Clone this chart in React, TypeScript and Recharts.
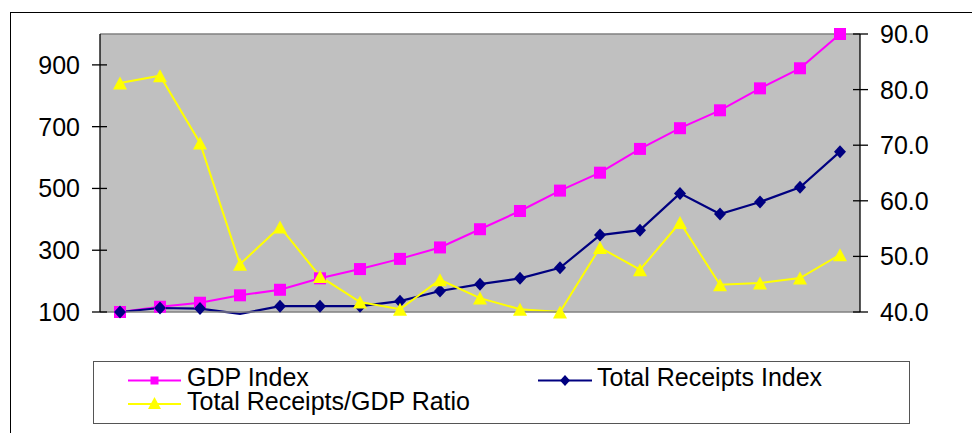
import React from 'react';
import { LineChart, Line, XAxis, YAxis, CartesianGrid, Legend, ReferenceLine } from 'recharts';

// --- data ---
const periods = ['1', '2', '3', '4', '5', '6', '7', '8', '9', '10', '11', '12', '13', '14', '15', '16', '17', '18', '19'];
const gdpIndex = [100, 117, 130, 154, 172, 209, 239, 272, 309, 368, 427, 493, 551, 628, 695, 753, 824, 889, 1000];
const receiptsIndex = [100, 113, 111, 94, 119, 119, 119, 135, 168, 190, 209, 243, 349, 365, 484, 417, 456, 504, 619];
const receiptsRatio = [81.2, 82.5, 70.4, 48.6, 55.3, 46.4, 41.8, 40.5, 45.8, 42.5, 40.5, 40.0, 51.6, 47.6, 56.1, 44.9, 45.2, 46.1, 50.3];
const leftTicks = [100, 300, 500, 700, 900];
const rightTicks = [40, 50, 60, 70, 80, 90];

const rows = periods.map((p, i) => ({
  period: p,
  gdp: gdpIndex[i],
  receipts: receiptsIndex[i],
  ratio: receiptsRatio[i],
}));

const FONT = '"Liberation Sans", Arial, sans-serif';
const MAGENTA = '#ff00ff';
const NAVY = '#000080';
const YELLOW = '#ffff00';

// --- marker shapes ---
const square = (cx: number, cy: number, s: number, color: string) => (
  <rect x={cx - s / 2} y={cy - s / 2} width={s} height={s} fill={color} />
);
const diamond = (cx: number, cy: number, w: number, h: number, color: string) => (
  <polygon points={`${cx},${cy - h} ${cx + w},${cy} ${cx},${cy + h} ${cx - w},${cy}`} fill={color} />
);
const triangle = (cx: number, cy: number, w: number, h: number, color: string) => (
  <polygon points={`${cx},${cy - h / 2} ${cx + w / 2},${cy + h / 2} ${cx - w / 2},${cy + h / 2}`} fill={color} />
);

const GdpDot = (props: any) => {
  const { cx, cy, index } = props;
  if (cx == null || cy == null) return <g key={index} />;
  return <g key={index}>{square(cx, cy, 12, MAGENTA)}</g>;
};
const ReceiptsDot = (props: any) => {
  const { cx, cy, index, value } = props;
  // point below the axis minimum has no marker in the original
  if (cx == null || cy == null || value < 100) return <g key={index} />;
  return <g key={index}>{diamond(cx, cy, 6, 6.5, NAVY)}</g>;
};
const RatioDot = (props: any) => {
  const { cx, cy, index } = props;
  if (cx == null || cy == null) return <g key={index} />;
  return <g key={index}>{triangle(cx, cy, 14, 13, YELLOW)}</g>;
};

// ticks cross the axis line (outer part from tickLine, inner part drawn here)
const LeftTick = (props: any) => {
  const { x, y, payload } = props;
  const axisX = x + 20;
  return (
    <g>
      <line x1={axisX} x2={axisX + 7} y1={y} y2={y} stroke="#000" strokeWidth={1.3} />
      <text x={x} y={y} dy="0.36em" textAnchor="end" fontFamily={FONT} fontSize={25} fill="#000">
        {payload.value}
      </text>
    </g>
  );
};
const RightTick = (props: any) => {
  const { x, y, payload } = props;
  const axisX = x - 20;
  return (
    <g>
      <line x1={axisX - 7} x2={axisX} y1={y} y2={y} stroke="#000" strokeWidth={1.3} />
      <text x={x} y={y} dy="0.36em" textAnchor="start" fontFamily={FONT} fontSize={25} fill="#000">
        {Number(payload.value).toFixed(1)}
      </text>
    </g>
  );
};

const renderLegend = () => (
  <svg width={817} height={63} style={{ display: 'block' }}>
    <rect x={0.5} y={0.5} width={816} height={62} fill="#fff" stroke="#555" strokeWidth={1} />
    {/* GDP Index */}
    <line x1={35} x2={88} y1={19.5} y2={19.5} stroke={MAGENTA} strokeWidth={2} />
    {square(61.5, 19.5, 8, MAGENTA)}
    <text x={94} y={25} fontFamily={FONT} fontSize={25} fill="#000">GDP Index</text>
    {/* Total Receipts Index */}
    <line x1={445} x2={499} y1={19.5} y2={19.5} stroke={NAVY} strokeWidth={2} />
    {diamond(472, 19.5, 5, 5.5, NAVY)}
    <text x={504} y={25} fontFamily={FONT} fontSize={25} fill="#000">Total Receipts Index</text>
    {/* Ratio */}
    <line x1={35} x2={88} y1={43} y2={43} stroke={YELLOW} strokeWidth={2} />
    {triangle(61.5, 42, 13, 12, YELLOW)}
    <text x={94} y={49} fontFamily={FONT} fontSize={25} fill="#000">Total Receipts/GDP Ratio</text>
  </svg>
);

export default function App() {
  return (
    <div style={{ position: 'absolute', left: 0, top: 0, width: 972, height: 433, overflow: 'hidden', background: '#fff' }}>
      {/* markers sit on the plot edges, so don't let the series be clipped */}
      <style>{`.recharts-surface [clip-path]{clip-path:none !important;}`}</style>
      {/* outer chart-area frame, cut off by the window on the right and bottom */}
      <div style={{ position: 'absolute', left: 10, top: 12, width: 1000, height: 500, border: '1.5px solid #000' }} />
      <div style={{ position: 'absolute', left: 0, top: 0 }}>
        <LineChart width={972} height={433} data={rows} margin={{ top: 34, right: 0, bottom: 9, left: 0 }}>
          <CartesianGrid yAxisId="left" fill="#c0c0c0" horizontal={false} vertical={false} />
          <XAxis
            dataKey="period"
            tick={false}
            tickLine={false}
            axisLine={{ stroke: '#808080', strokeWidth: 1.5 }}
            height={49}
            padding={{ left: 20, right: 20 }}
          />
          <YAxis
            yAxisId="left"
            domain={[100, 1000]}
            ticks={leftTicks}
            allowDataOverflow
            width={100}
            tickSize={8}
            tickMargin={12}
            tickLine={{ stroke: '#000', strokeWidth: 1.3 }}
            axisLine={{ stroke: '#000', strokeWidth: 1.3 }}
            tick={<LeftTick />}
            interval={0}
          />
          <YAxis
            yAxisId="right"
            orientation="right"
            domain={[40, 90]}
            ticks={rightTicks}
            allowDataOverflow
            width={112}
            tickSize={8}
            tickMargin={12}
            tickLine={{ stroke: '#000', strokeWidth: 1.3 }}
            axisLine={{ stroke: '#000', strokeWidth: 1.3 }}
            tick={<RightTick />}
            interval={0}
          />
          <ReferenceLine yAxisId="left" y={1000} stroke="#808080" strokeWidth={1.5} />
          <Legend
            verticalAlign="bottom"
            height={63}
            content={renderLegend}
            wrapperStyle={{ left: 93, width: 817, height: 63 }}
          />
          <Line
            yAxisId="left"
            dataKey="gdp"
            name="GDP Index"
            type="linear"
            stroke={MAGENTA}
            strokeWidth={2}
            dot={GdpDot}
            activeDot={false}
            isAnimationActive={false}
          />
          <Line
            yAxisId="left"
            dataKey="receipts"
            name="Total Receipts Index"
            type="linear"
            stroke={NAVY}
            strokeWidth={2.2}
            dot={ReceiptsDot}
            activeDot={false}
            isAnimationActive={false}
          />
          <Line
            yAxisId="right"
            dataKey="ratio"
            name="Total Receipts/GDP Ratio"
            type="linear"
            stroke={YELLOW}
            strokeWidth={2}
            dot={RatioDot}
            activeDot={false}
            isAnimationActive={false}
          />
        </LineChart>
      </div>
    </div>
  );
}
